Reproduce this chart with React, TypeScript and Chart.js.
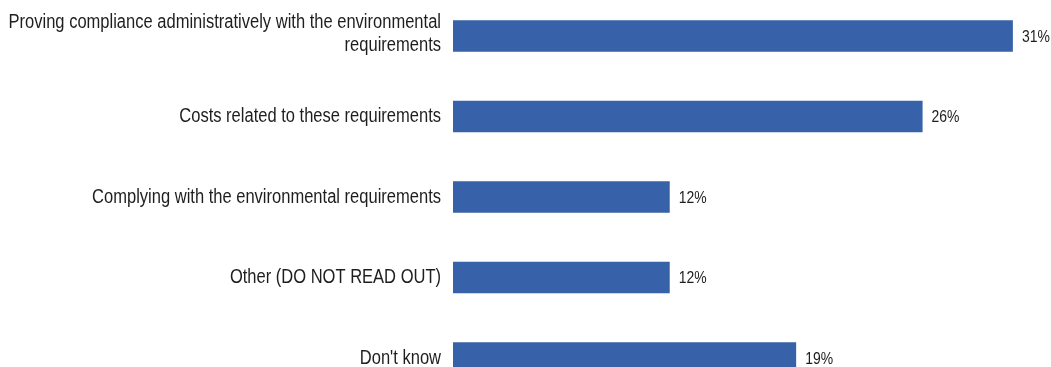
import React, { useEffect, useRef } from "react";
import { Chart, registerables } from "chart.js";

Chart.register(...registerables);

const categories: string[][] = [
  ["Proving compliance administratively with the environmental", "requirements"],
  ["Costs related to these requirements"],
  ["Complying with the environmental requirements"],
  ["Other (DO NOT READ OUT)"],
  ["Don't know"],
];
const values = [31, 26, 12, 12, 19];
const valueLabels = ["31%", "26%", "12%", "12%", "19%"];

const FONT = "'Liberation Sans', Arial, sans-serif";
const SQUEEZE_LABEL = 0.826;
const SQUEEZE_VALUE = 0.82;

export default function App() {
  const ref = useRef<HTMLCanvasElement | null>(null);
  useEffect(() => {
    if (!ref.current) return;
    const textPlugin = {
      id: "narrowText",
      afterDatasetsDraw(chart: any) {
        const ctx = chart.ctx;
        const yScale = chart.scales.y;
        const meta = chart.getDatasetMeta(0);
        ctx.save();
        ctx.fillStyle = "#1e1e1e";
        ctx.textBaseline = "middle";
        ctx.font = `20px ${FONT}`;
        ctx.textAlign = "right";
        const lineH = 23;
        categories.forEach((lines, i) => {
          const cy = yScale.getPixelForTick(i);
          const startY = cy - ((lines.length - 1) * lineH) / 2 - (lines.length > 1 ? 2.5 : 0);
          lines.forEach((ln, j) => {
            ctx.save();
            ctx.translate(chart.chartArea.left - 12, startY + j * lineH);
            ctx.scale(SQUEEZE_LABEL, 1);
            ctx.fillText(ln, 0, 0);
            ctx.restore();
          });
        });
        ctx.font = `17px ${FONT}`;
        ctx.textAlign = "left";
        meta.data.forEach((bar: any, i: number) => {
          ctx.save();
          ctx.translate(bar.x + 9, bar.y + 1);
          ctx.scale(SQUEEZE_VALUE, 1);
          ctx.fillText(valueLabels[i], 0, 0);
          ctx.restore();
        });
        ctx.restore();
      },
    };
    const chart = new Chart(ref.current, {
      type: "bar",
      data: {
        labels: categories.map((c) => c.join(" ")),
        datasets: [
          {
            data: values,
            backgroundColor: "#3762A9",
            borderWidth: 0,
            barPercentage: 0.78,
            categoryPercentage: 0.5,
          },
        ],
      },
      options: {
        indexAxis: "y",
        animation: false,
        responsive: true,
        maintainAspectRatio: false,
        layout: { padding: { top: 15.75, bottom: 11.75, left: 0, right: 2 } },
        plugins: { legend: { display: false }, tooltip: { enabled: false } },
        scales: {
          x: {
            min: 0,
            max: 33,
            display: false,
            grid: { display: false },
          },
          y: {
            grid: { display: false, drawTicks: false },
            border: { display: false },
            afterFit: (scale: any) => {
              scale.width = 453;
            },
            ticks: { display: false },
          },
        },
      },
      plugins: [textPlugin],
    });
    return () => chart.destroy();
  }, []);
  return (
    <div style={{ position: "fixed", left: 0, top: 0, width: 1051, height: 367, overflow: "hidden", background: "#fff" }}>
      <div style={{ position: "absolute", left: 0, top: -20, width: 1051, height: 430 }}>
        <canvas ref={ref} />
      </div>
    </div>
  );
}
